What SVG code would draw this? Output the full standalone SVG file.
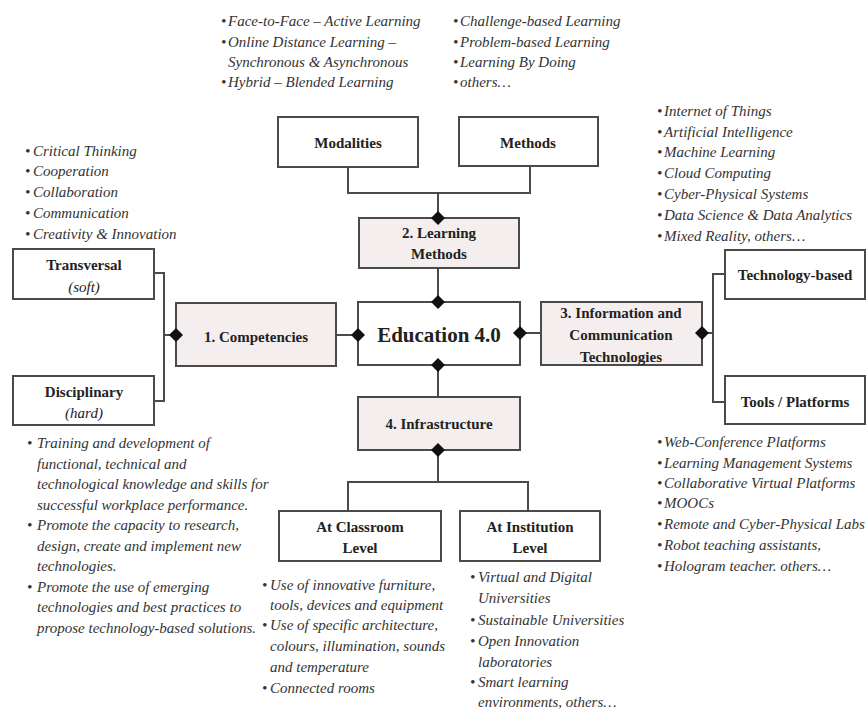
<svg xmlns="http://www.w3.org/2000/svg" width="866" height="709" viewBox="0 0 866 709">
<style>
.bg{fill:#fff}
.box{fill:#fff;stroke:#4a4a4a;stroke-width:2}
.hub{fill:#f4eeee;stroke:#4a4a4a;stroke-width:2}
.lbl{font-family:"Liberation Serif","Times New Roman",serif;font-weight:bold;font-size:15px;fill:#222;text-anchor:middle}
.lbli{font-family:"Liberation Serif","Times New Roman",serif;font-style:italic;font-size:15px;fill:#222;text-anchor:middle}
.big{font-size:21px}
.list{font-family:"Liberation Serif","Times New Roman",serif;font-style:italic;font-size:15px;fill:#333}
.conn path{fill:none;stroke:#4a4a4a;stroke-width:2}
.dia{fill:#111}
</style>
<defs>
<path id="d" d="M0,-7 L7,0 L0,7 L-7,0 Z"/>
</defs>
<rect class="bg" width="866" height="709"/>

<g id="connectors" class="conn">
<path d="M348,167 V193 H530 V166"/>
<path d="M438,193 V218"/>
<path d="M438,268 V302"/>
<path d="M438,365 V397"/>
<path d="M438,450 V482"/>
<path d="M348,511 V482 H528 V511"/>
<path d="M154,273 H164 V401 H154"/>
<path d="M164,335 H176"/>
<path d="M336,335 H358"/>
<path d="M520,333 H541"/>
<path d="M702,333 H713"/>
<path d="M725,274 H713 V402 H725"/>
</g>

<g id="modalities"><rect class="box" x="278" y="117" width="140" height="50"/><text class="lbl" x="348" y="148">Modalities</text></g>
<g id="methods"><rect class="box" x="459" y="117" width="139" height="49"/><text class="lbl" x="528" y="148">Methods</text></g>
<g id="learning-methods"><rect class="hub" x="359" y="218" width="160" height="50"/><text class="lbl"><tspan x="439" y="238">2. Learning</tspan><tspan x="439" y="259">Methods</tspan></text></g>
<g id="education"><rect class="box" x="358" y="302" width="162" height="63"/><text class="lbl big" x="439" y="342">Education 4.0</text></g>
<g id="competencies"><rect class="hub" x="176" y="303" width="160" height="63"/><text class="lbl" x="256" y="342">1. Competencies</text></g>
<g id="ict"><rect class="hub" x="541" y="302" width="161" height="63"/><text class="lbl"><tspan x="621" y="318">3. Information and</tspan><tspan x="621" y="340">Communication</tspan><tspan x="621" y="362">Technologies</tspan></text></g>
<g id="infrastructure"><rect class="hub" x="358" y="397" width="162" height="53"/><text class="lbl" x="439" y="429">4. Infrastructure</text></g>
<g id="transversal"><rect class="box" x="13" y="249" width="141" height="50"/><text class="lbl" x="84" y="270">Transversal</text><text class="lbli" x="84" y="292">(soft)</text></g>
<g id="disciplinary"><rect class="box" x="13" y="376" width="141" height="49"/><text class="lbl" x="84" y="397">Disciplinary</text><text class="lbli" x="84" y="418">(hard)</text></g>
<g id="technology-based"><rect class="box" x="725" y="250" width="140" height="49"/><text class="lbl" x="795" y="280">Technology-based</text></g>
<g id="tools-platforms"><rect class="box" x="725" y="376" width="140" height="48"/><text class="lbl" x="795" y="407">Tools / Platforms</text></g>
<g id="classroom"><rect class="box" x="279" y="511" width="162" height="50"/><text class="lbl"><tspan x="360" y="532">At Classroom</tspan><tspan x="360" y="553">Level</tspan></text></g>
<g id="institution"><rect class="box" x="460" y="511" width="140" height="50"/><text class="lbl"><tspan x="530" y="532">At Institution</tspan><tspan x="530" y="553">Level</tspan></text></g>

<g id="diamonds" class="dia">
<use href="#d" x="438" y="218"/>
<use href="#d" x="438" y="302"/>
<use href="#d" x="438" y="365"/>
<use href="#d" x="438" y="450"/>
<use href="#d" x="358" y="335"/>
<use href="#d" x="520" y="333"/>
<use href="#d" x="176" y="335"/>
<use href="#d" x="702" y="333"/>
</g>

<g id="list-modalities" class="list">
<text x="221" y="26">•</text><text x="228" y="26">Face-to-Face – Active Learning</text>
<text x="221" y="47">•</text><text x="228" y="47">Online Distance Learning –</text>
<text x="228" y="67">Synchronous &amp; Asynchronous</text>
<text x="221" y="87">•</text><text x="228" y="87">Hybrid – Blended Learning</text>
</g>
<g id="list-methods" class="list">
<text x="453" y="26">•</text><text x="460" y="26">Challenge-based Learning</text>
<text x="453" y="47">•</text><text x="460" y="47">Problem-based Learning</text>
<text x="453" y="67">•</text><text x="460" y="67">Learning By Doing</text>
<text x="453" y="87">•</text><text x="460" y="87">others…</text>
</g>
<g id="list-tech" class="list">
<text x="657" y="116">•</text><text x="664" y="116">Internet of Things</text>
<text x="657" y="137">•</text><text x="664" y="137">Artificial Intelligence</text>
<text x="657" y="157">•</text><text x="664" y="157">Machine Learning</text>
<text x="657" y="178">•</text><text x="664" y="178">Cloud Computing</text>
<text x="657" y="199">•</text><text x="664" y="199">Cyber-Physical Systems</text>
<text x="657" y="220">•</text><text x="664" y="220">Data Science &amp; Data Analytics</text>
<text x="657" y="241">•</text><text x="664" y="241">Mixed Reality, others…</text>
</g>
<g id="list-soft" class="list">
<text x="25" y="156">•</text><text x="33" y="156">Critical Thinking</text>
<text x="25" y="176">•</text><text x="33" y="176">Cooperation</text>
<text x="25" y="197">•</text><text x="33" y="197">Collaboration</text>
<text x="25" y="218">•</text><text x="33" y="218">Communication</text>
<text x="25" y="239">•</text><text x="33" y="239">Creativity &amp; Innovation</text>
</g>
<g id="list-hard" class="list">
<text x="27" y="448">•</text><text x="37" y="448">Training and development of</text>
<text x="37" y="468.5">functional, technical and</text>
<text x="37" y="489">technological knowledge and skills for</text>
<text x="37" y="509.5">successful workplace performance.</text>
<text x="27" y="530">•</text><text x="37" y="530">Promote the capacity to research,</text>
<text x="37" y="550.5">design, create and implement new</text>
<text x="37" y="571">technologies.</text>
<text x="27" y="591.5">•</text><text x="37" y="591.5">Promote the use of emerging</text>
<text x="37" y="612">technologies and best practices to</text>
<text x="37" y="632.5">propose technology-based solutions.</text>
</g>
<g id="list-tools" class="list">
<text x="657" y="447">•</text><text x="664" y="447">Web-Conference Platforms</text>
<text x="657" y="468">•</text><text x="664" y="468">Learning Management Systems</text>
<text x="657" y="488">•</text><text x="664" y="488">Collaborative Virtual Platforms</text>
<text x="657" y="508">•</text><text x="664" y="508">MOOCs</text>
<text x="657" y="529">•</text><text x="664" y="529">Remote and Cyber-Physical Labs</text>
<text x="657" y="550">•</text><text x="664" y="550">Robot teaching assistants,</text>
<text x="657" y="571">•</text><text x="664" y="571">Hologram teacher. others…</text>
</g>
<g id="list-classroom" class="list">
<text x="262" y="590">•</text><text x="270" y="590">Use of innovative furniture,</text>
<text x="270" y="610">tools, devices and equipment</text>
<text x="262" y="630">•</text><text x="270" y="630">Use of specific architecture,</text>
<text x="270" y="651">colours, illumination, sounds</text>
<text x="270" y="672">and temperature</text>
<text x="262" y="693">•</text><text x="270" y="693">Connected rooms</text>
</g>
<g id="list-institution" class="list">
<text x="470" y="582">•</text><text x="478" y="582">Virtual and Digital</text>
<text x="478" y="603">Universities</text>
<text x="470" y="625">•</text><text x="478" y="625">Sustainable Universities</text>
<text x="470" y="646">•</text><text x="478" y="646">Open Innovation</text>
<text x="478" y="667">laboratories</text>
<text x="470" y="687">•</text><text x="478" y="687">Smart learning</text>
<text x="478" y="707">environments, others…</text>
</g>
</svg>
